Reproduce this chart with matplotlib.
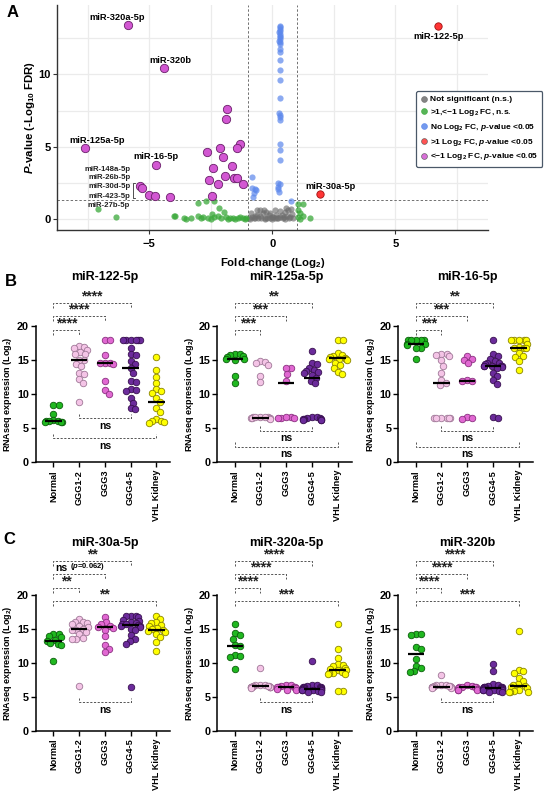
import numpy as np
import matplotlib
matplotlib.use('Agg')
import matplotlib.pyplot as plt
from matplotlib.lines import Line2D

plt.rcParams['font.family'] = ['Liberation Sans', 'DejaVu Sans']
plt.rcParams['font.weight'] = 'bold'
plt.rcParams['axes.labelweight'] = 'bold'
plt.rcParams['mathtext.fontset'] = 'custom'
plt.rcParams['mathtext.rm'] = 'Liberation Sans:bold'
plt.rcParams['mathtext.it'] = 'Liberation Sans:italic:bold'
plt.rcParams['mathtext.bf'] = 'Liberation Sans:bold'

W, H = 550, 798

# ---------------- volcano data (panel A) ----------------
grey_fc = [-0.96, -0.90, -0.83, -0.75, -0.69, -0.60, -0.56, -0.49, -0.45, -0.35, -0.30, -0.24,
           -0.20, -0.15, -0.08, -0.02, 0.05, 0.10, 0.12, 0.19, 0.25, 0.33, 0.39, 0.42, 0.46,
           0.53, 0.57, 0.62, 0.68, 0.73, 0.80, 0.84, -0.62, -0.50, -0.38, -0.28, -0.10, 0.00,
           0.15, 0.30, 0.50, 0.60, 0.75, -0.85, -0.70]
grey_p = [0.05, 0.03, 0.16, 0.08, 0.05, 0.60, 0.10, 0.62, 0.05, 0.62, 0.08, 0.50,
          0.05, 0.28, 0.05, 0.12, 0.16, 0.05, 0.62, 0.05, 0.10, 0.16, 0.28, 0.05, 0.16,
          0.50, 0.80, 0.62, 0.05, 0.16, 0.39, 0.05, 0.30, 0.20, 0.45, 0.02, 0.40, 0.00,
          0.30, 0.55, 0.00, 0.25, 0.70, 0.45, 0.20]

green_fc = [-7.09, -6.34, -3.00, -2.70, -2.38, -2.18, -1.98, -4.01, -3.96, -3.58, -3.32, -3.00,
            -2.80, -2.60, -2.50, -2.38, -2.20, -2.10, -1.90, -1.80, -1.70, -1.60, -1.50, -1.40,
            -1.30, -1.20, -1.10, -1.05, -2.90, -3.50, -2.45,
            1.04, 1.23, 1.04, 1.12, 1.27, 1.12, 1.54, 1.05]
green_p = [0.71, 0.14, 1.15, 1.22, 1.22, 0.76, 0.48, 0.23, 0.22, 0.05, 0.05, 0.23,
           0.14, 0.05, 0.02, 0.14, 0.20, 0.05, 0.12, 0.02, 0.05, 0.10, 0.00, 0.08,
           0.15, 0.05, 0.02, 0.10, 0.05, 0.02, 0.35,
           1.08, 1.03, 0.62, 0.40, 0.20, 0.00, 0.10, 0.12]

blue_fc = [0.30, 0.32, 0.30, 0.31, 0.29, 0.31, 0.30, 0.32, 0.30, 0.29, 0.31, 0.30,
           0.30, 0.31, 0.30, 0.30, 0.31, 0.30, 0.28, 0.30, 0.32, 0.30, 0.31, 0.30, 0.30,
           0.22, 0.33, 0.25, 0.24, 0.27, 0.76, -0.83, -0.83, -0.72, -0.66, -0.76, -0.78]
blue_p = [13.38, 13.26, 13.15, 13.03, 12.92, 12.80, 12.69, 12.57, 12.46, 12.34, 12.23, 12.11,
          11.77, 11.54, 10.97, 10.32, 9.63, 8.37, 7.33, 7.17, 7.06, 6.83, 5.22, 4.76, 4.12,
          2.52, 2.43, 2.25, 2.05, 1.89, 1.26, 2.92, 2.18, 2.05, 2.00, 1.80, 1.50]

red_fc = [6.73, 1.93]
red_p = [13.38, 1.72]

magenta_fc = [-5.87, -4.42, -7.63, -4.73, -5.37, -5.31, -4.99, -4.76, -4.16,
              -1.83, -1.87, -1.33, -2.11, -1.43, -2.67, -2.00, -1.65, -2.39, -1.91,
              -2.56, -1.57, -1.43, -2.20, -1.17, -2.43]
magenta_p = [13.40, 10.43, 4.94, 3.75, 2.32, 2.16, 1.68, 1.61, 1.52,
             7.59, 6.94, 5.22, 4.94, 4.94, 4.64, 4.30, 3.68, 3.54, 3.01,
             2.69, 2.81, 2.81, 2.46, 2.41, 1.59]

big_labels = ['miR-320a-5p', 'miR-320b', 'miR-125a-5p', 'miR-16-5p', 'miR-122-5p', 'miR-30a-5p']
big_label_x = [-6.31, -4.15, -7.10, -4.73, 6.76, 2.36]
big_label_y = [13.95, 10.95, 5.45, 4.30, 12.60, 2.25]
small_labels = ['miR-148a-5p', 'miR-26b-5p', 'miR-30d-5p', 'miR-423-5p', 'miR-27b-5p']
small_label_y = [3.42, 2.85, 2.28, 1.59, 0.92]

# ---------------- dot-plot data (panels B, C) ----------------
groups = ['Normal', 'GGG1-2', 'GGG3', 'GGG4-5', 'VHL Kidney']

mir122 = [[8.4, 8.4, 7.1, 6.2, 6.1, 6.0, 6.0, 5.9, 5.9, 5.9],
          [17.0, 16.9, 16.8, 16.5, 16.2, 15.9, 15.9, 15.0, 15.0, 14.4, 14.2, 13.1, 13.0, 12.2, 11.7, 8.9],
          [17.9, 17.9, 15.8, 14.6, 14.5, 14.5, 14.4, 12.0, 10.6, 10.0],
          [17.9, 17.9, 17.9, 17.9, 17.9, 17.9, 16.8, 15.9, 15.8, 14.9, 14.4, 13.8, 13.1, 11.9, 11.8,
           10.7, 10.6, 10.5, 9.4, 8.7, 8.0, 7.8],
          [15.4, 13.5, 12.5, 11.6, 10.7, 10.5, 10.2, 9.4, 8.8, 8.0, 7.4, 6.4, 6.0, 6.0, 5.9, 5.7]]
mir122_med = [6.05, 15.05, 14.5, 13.8, 8.8]

mir125 = [[15.9, 15.9, 15.8, 15.6, 15.4, 15.2, 15.2, 15.0, 12.7, 11.7],
          [14.9, 14.7, 14.5, 14.3, 12.7, 11.8, 6.7, 6.6, 6.6, 6.5, 6.5, 6.5, 6.5, 6.6, 6.4, 6.6],
          [13.8, 13.8, 13.0, 11.9, 6.6, 6.5, 6.5, 6.5, 6.6],
          [16.4, 14.6, 14.4, 13.9, 13.6, 13.4, 13.3, 13.1, 12.8, 12.4, 12.0, 11.6, 6.6, 6.6, 6.5,
           6.5, 6.4, 6.4, 6.3, 6.2, 6.2, 6.2],
          [17.9, 17.9, 16.0, 15.8, 15.6, 15.5, 15.3, 15.2, 15.2, 15.1, 15.0, 14.6, 14.3, 13.8, 13.2, 13.0]]
mir125_med = [15.2, 6.55, 11.6, 12.4, 15.25]

mir16 = [[17.9, 17.9, 17.9, 17.9, 17.9, 17.4, 17.3, 17.2, 16.8, 16.8, 15.2],
         [15.9, 15.9, 15.8, 15.6, 15.0, 14.2, 13.1, 12.1, 11.6, 11.3, 6.5, 6.5, 6.5, 6.5, 6.5, 6.5],
         [15.6, 15.2, 15.0, 14.5, 12.1, 12.0, 11.9, 6.6, 6.5, 6.4],
         [17.9, 15.9, 15.6, 15.2, 14.9, 14.6, 14.5, 14.4, 14.2, 14.2, 14.2, 14.1, 14.1, 14.0, 13.8,
          13.1, 12.7, 12.1, 11.5, 6.6, 6.5],
         [17.9, 17.9, 17.9, 17.9, 17.9, 17.4, 16.9, 16.8, 16.8, 16.7, 16.0, 15.6, 15.4, 14.9, 13.5]]
mir16_med = [17.3, 11.6, 12.0, 14.2, 16.8]

mir30a = [[14.2, 14.2, 14.0, 13.8, 13.4, 13.3, 12.9, 12.8, 12.6, 10.3],
          [16.5, 16.0, 16.0, 15.9, 15.7, 15.5, 15.3, 15.0, 14.9, 14.8, 14.6, 14.3, 13.7, 13.6, 13.5, 6.6],
          [16.8, 16.0, 15.7, 15.5, 15.3, 15.2, 14.8, 13.9, 12.6, 12.1, 11.6],
          [16.9, 16.9, 16.9, 16.8, 16.3, 16.2, 16.0, 15.9, 15.8, 15.7, 15.6, 15.5, 15.4, 15.3, 15.0,
           14.8, 14.1, 13.6, 13.2, 12.8, 6.5],
          [16.9, 16.4, 16.0, 15.9, 15.6, 15.4, 15.2, 15.0, 14.9, 14.7, 14.6, 14.3, 13.8, 13.1, 11.8]]
mir30a_med = [13.25, 15.05, 15.3, 15.55, 14.8]

mir320a = [[15.8, 14.4, 14.1, 13.6, 12.6, 12.5, 11.2, 11.1, 10.9, 9.1],
           [9.3, 6.8, 6.7, 6.7, 6.6, 6.6, 6.5, 6.5, 6.5, 6.5, 6.4, 6.4, 6.4, 6.4, 6.3, 6.6],
           [6.8, 6.7, 6.6, 6.5, 6.5, 6.4, 6.4, 6.3, 6.2, 6.0, 6.0],
           [10.3, 6.8, 6.7, 6.6, 6.5, 6.5, 6.4, 6.4, 6.3, 6.3, 6.3, 6.2, 6.2, 6.2, 6.1, 6.1, 6.0,
            6.0, 6.0, 5.9, 5.8, 5.8],
           [15.8, 12.0, 10.7, 9.8, 9.7, 9.5, 9.3, 9.1, 8.9, 8.9, 8.7, 8.5, 8.5, 8.4, 8.4, 5.9, 5.9]]
mir320a_med = [12.5, 6.55, 6.45, 6.25, 8.9]

mir320b = [[14.2, 14.2, 14.1, 12.3, 12.0, 10.6, 9.6, 9.3, 8.8, 8.7],
           [8.3, 6.8, 6.7, 6.7, 6.6, 6.6, 6.5, 6.5, 6.5, 6.5, 6.4, 6.4, 6.4, 6.3, 6.3, 6.6],
           [6.7, 6.6, 6.5, 6.5, 6.4, 6.4, 6.3, 6.2, 6.1, 6.0, 6.0],
           [9.9, 8.8, 6.9, 6.7, 6.6, 6.5, 6.5, 6.4, 6.4, 6.4, 6.3, 6.3, 6.3, 6.2, 6.2, 6.1, 6.1,
            6.0, 6.0, 5.9, 5.8, 5.8],
           [14.7, 9.0, 8.8, 8.5, 7.8, 7.3, 6.9, 6.7, 6.6, 6.5, 6.3, 6.1, 5.9, 5.8, 5.8, 5.8]]
mir320b_med = [11.3, 6.5, 6.4, 6.35, 6.65]

# brackets: (group a, group b, height, label)
b_upper_122 = [(0, 1, 19.4, '****'), (0, 2, 21.5, '****'), (0, 3, 23.4, '****')]
b_lower_122 = [(1, 3, 6.45, 'ns'), (0, 4, 3.5, 'ns')]
b_upper_125 = [(0, 1, 19.4, '***'), (0, 2, 21.5, '***'), (0, 3, 23.4, '**')]
b_lower_125 = [(1, 3, 4.65, 'ns'), (0, 4, 2.3, 'ns')]
b_upper_16 = [(0, 1, 19.4, '***'), (0, 2, 21.5, '***'), (0, 3, 23.4, '**')]
b_lower_16 = [(1, 3, 4.65, 'ns'), (0, 4, 2.3, 'ns')]
c_upper_30a = [(0, 4, 19.1, '**'), (0, 1, 21.1, '**'), (0, 2, 23.05, 'ns'), (0, 3, 25.0, '**')]
c_upper_320a = [(0, 4, 19.1, '***'), (0, 1, 21.1, '****'), (0, 2, 23.05, '****'), (0, 3, 25.0, '****')]
c_upper_320b = [(0, 4, 19.1, '***'), (0, 1, 21.1, '****'), (0, 2, 23.05, '****'), (0, 3, 25.0, '****')]
c_lower = [(1, 3, 4.2, 'ns')]

fills = ['#20b820', '#f4c4e6', '#e168d2', '#6b2b9b', '#ffff00']
edges = ['#0b5e0b', '#a07898', '#8a3080', '#38104f', '#8a8400']

fig = plt.figure(figsize=(W / 100, H / 100), dpi=100)


def px_axes(left, top, right, bottom):
    return fig.add_axes([left / W, 1 - bottom / H, (right - left) / W, (bottom - top) / H])


# ---------------- panel A ----------------
ax = px_axes(57, 5, 488, 230)
ax.set_xlim(-8.75, 8.77)
ax.set_ylim(-0.75, 14.8)
for v in np.arange(-7.5, 8, 2.5):
    ax.axvline(v, color='#ebebeb', lw=0.9, zorder=0)
for v in np.arange(0, 14, 2.5):
    ax.axhline(v, color='#ebebeb', lw=0.9, zorder=0)
ax.axvline(-1, color='#707070', ls=(0, (2.5, 2)), lw=0.7, zorder=1)
ax.axvline(1, color='#707070', ls=(0, (2.5, 2)), lw=0.7, zorder=1)
ax.axhline(-np.log10(0.05), color='#707070', ls=(0, (2.5, 2)), lw=0.7, zorder=1)

ax.scatter(grey_fc, grey_p, s=20, color='#6e6e6e', alpha=0.65, lw=0, zorder=2)
ax.scatter(green_fc, green_p, s=20, color='#3aa83a', alpha=0.75, lw=0, zorder=2)
ax.scatter(blue_fc, blue_p, s=20, color='#5b87ec', alpha=0.7, lw=0, zorder=2)
ax.scatter(red_fc, red_p, s=28, color='#ff3535', edgecolors='#a01010', lw=0.6, zorder=3)
ax.scatter(magenta_fc, magenta_p, s=36, color='#d257d2', edgecolors='#6a1f6a', lw=0.6, zorder=3)

for lab, x, y in zip(big_labels, big_label_x, big_label_y):
    ax.text(x, y, lab, ha='center', va='center', fontsize=6.7, fontweight='bold')
for lab, y in zip(small_labels, small_label_y):
    ax.text(-5.77, y, lab, ha='right', va='center', fontsize=5.6, fontweight='bold', color='#222222')
ax.plot([-5.58, -5.67, -5.67, -5.58], [2.5, 2.5, 1.43, 1.43], color='#333333', lw=0.6)

ax.set_xticks([-5, 0, 5])
ax.set_yticks([0, 5, 10])
ax.tick_params(labelsize=8, length=3, width=0.8, color='#333333')
ax.tick_params(axis='y', pad=1.5)
for s in ['top', 'right']:
    ax.spines[s].set_visible(False)
for s in ['left', 'bottom']:
    ax.spines[s].set_color('#333333')
    ax.spines[s].set_linewidth(1.0)
ax.set_xlabel('Fold-change (Log$_2$)', fontsize=8.2, labelpad=5)
ax.set_ylabel('$P$-value (-Log$_{10}$ FDR)', fontsize=8.2, labelpad=1)

leg_colors = ['#6e6e6e', '#3aa83a', '#5b87ec', '#ff3535', '#d257d2']
leg_labels = ['Not significant (n.s.)', '>1,<\u22121 Log$_2$ FC, n.s.', 'No Log$_2$ FC, $p$-value <0.05',
              '>1 Log$_2$ FC, $p$-value <0.05', '<\u22121 Log$_2$ FC, $p$-value <0.05']
handles = [Line2D([], [], ls='none', marker='o', ms=4.2, mfc=c, mec='#555555' if i > 2 else c,
                  mew=0.5, alpha=0.85) for i, c in enumerate(leg_colors)]
leg = fig.legend(handles, leg_labels, loc='center left', bbox_to_anchor=(412 / W, 1 - 129 / H),
                 fontsize=6.0, frameon=True, fancybox=True, edgecolor='#4a5868', framealpha=1,
                 handlelength=0.8, handletextpad=0.35, borderpad=0.5, labelspacing=0.45)
leg.get_frame().set_linewidth(0.9)

# ---------------- panels B, C ----------------
XS = 25.7   # px per category
YS = 6.8    # px per unit


def swarm(vals, diam=5.6, limit=0.37):
    placed = []
    offs = np.zeros(len(vals))
    for i in np.argsort(vals)[::-1]:
        y = vals[i] * YS
        cands = [0.0]
        for px_, py_ in placed:
            dy = abs(py_ - y)
            if dy < diam:
                dx = np.sqrt(diam ** 2 - dy ** 2)
                cands += [px_ + dx, px_ - dx]
        cands.sort(key=lambda c: (round(abs(c), 6), -c))
        for c in cands:
            if all((c - px_) ** 2 + (y - py_) ** 2 >= diam ** 2 - 1e-6 for px_, py_ in placed):
                break
        placed.append((c, y))
        offs[i] = c / XS
    # squeeze wide rows so the group stays inside its column
    return limit * np.tanh(offs / limit)


def dot_panel(left, top, bottom, title, data, meds, upper, lower, title_y, ns_p=None):
    a = px_axes(left, top, left + 5.23 * XS, bottom)
    a.set_xlim(-0.68, 4.55)
    a.set_ylim(0, 20)
    for i, vals in enumerate(data):
        off = swarm(np.array(vals))
        a.scatter(i + off, vals, s=22, color=fills[i], edgecolors=edges[i], lw=0.6, zorder=3,
                  clip_on=False)
        a.plot([i - 0.32, i + 0.32], [meds[i], meds[i]], color='black', lw=1.6, zorder=4,
               solid_capstyle='butt')
    dash = dict(color='#555555', lw=0.7, ls=(0, (2.2, 1.6)), clip_on=False)
    for g1, g2, y, lab in upper:
        a.plot([g1, g1, g2, g2], [y - 0.75, y, y, y - 0.75], **dash)
        if lab == 'ns' and ns_p:
            t = a.text(0.3, y + 0.2, 'ns', ha='center', va='bottom', fontsize=7.5,
                       fontweight='bold')
            a.annotate(ns_p, xy=(1, 0), xycoords=t, xytext=(2, 0.5), textcoords='offset points',
                       ha='left', va='bottom', fontsize=5.5, fontweight='bold')
        else:
            a.text((g1 + g2) / 2, y - 0.1, lab, ha='center', va='bottom', fontsize=10,
                   fontweight='bold', color='#222222')
    for g1, g2, y, lab in lower:
        a.plot([g1, g1, g2, g2], [y + 0.65, y, y, y + 0.65], **dash)
        a.text((g1 + g2) / 2, y - 0.35, lab, ha='center', va='top', fontsize=7.5, fontweight='bold')
    a.text(2, title_y, title, ha='center', va='center', fontsize=9, fontweight='bold')
    a.set_xticks(range(5))
    a.set_xticklabels(groups, rotation=90, fontsize=6.6)
    a.set_yticks([0, 5, 10, 15, 20])
    a.tick_params(axis='y', labelsize=7.8, length=3.5, width=1.0, pad=1.5)
    a.tick_params(axis='x', length=3.5, width=1.0, pad=2)
    for s in ['top', 'right']:
        a.spines[s].set_visible(False)
    for s in ['left', 'bottom']:
        a.spines[s].set_linewidth(1.1)
    a.set_ylabel('RNAseq expression (Log$_2$)', fontsize=6.5, labelpad=2)
    return a


dot_panel(36, 326, 462.3, 'miR-122-5p', mir122, mir122_med, b_upper_122, b_lower_122, 27.2)
dot_panel(217.3, 326, 462.3, 'miR-125a-5p', mir125, mir125_med, b_upper_125, b_lower_125, 27.2)
dot_panel(398.3, 326, 462.3, 'miR-16-5p', mir16, mir16_med, b_upper_16, b_lower_16, 27.2)
dot_panel(36, 595, 731, 'miR-30a-5p', mir30a, mir30a_med, c_upper_30a, c_lower, 27.7,
          ns_p='($p$=0.062)')
dot_panel(217.3, 595, 731, 'miR-320a-5p', mir320a, mir320a_med, c_upper_320a, c_lower, 27.7)
dot_panel(398.3, 595, 731, 'miR-320b', mir320b, mir320b_med, c_upper_320b, c_lower, 27.7)

for lab, x, y in [('A', 12.5, 12.5), ('B', 11, 281), ('C', 9, 539)]:
    fig.text(x / W, 1 - y / H, lab, fontsize=12, fontweight='bold', ha='center', va='center')

fig.savefig('out.png', dpi=100)
